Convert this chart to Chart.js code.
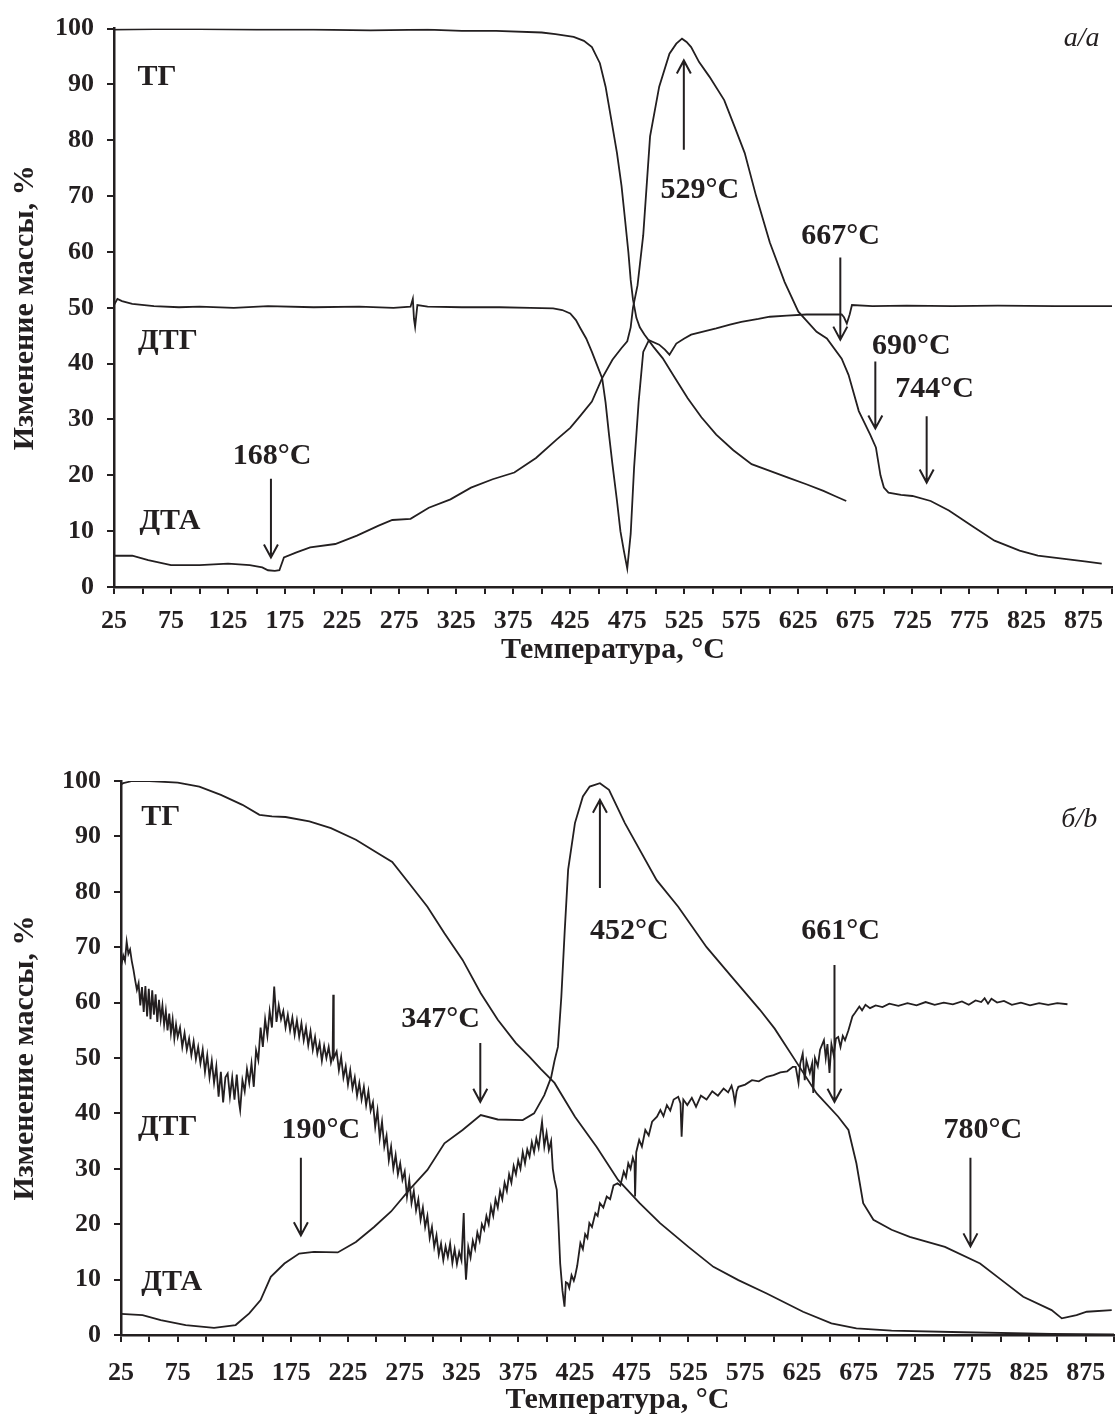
<!DOCTYPE html>
<html>
<head>
<meta charset="utf-8">
<script src="https://cdn.jsdelivr.net/npm/chart.js@4.4.1/dist/chart.umd.min.js"></script>
<style>
  html, body { margin: 0; padding: 0; background: #fff; overflow: hidden; }
  #page { position: relative; width: 1116px; height: 1418px; overflow: hidden; background: #fff; }
  .panel { position: absolute; left: 0; }
</style>
</head>
<body>
<div id="page">
  <canvas id="chartA" class="panel" width="1130" height="700" style="top:0"></canvas>
  <canvas id="chartB" class="panel" width="1130" height="688" style="top:730px"></canvas>
</div>
<script>
// --- AXES ---
const xTickMarks = [25, 50, 75, 100, 125, 150, 175, 200, 225, 250, 275, 300, 325, 350, 375, 400, 425, 450,
  475, 500, 525, 550, 575, 600, 625, 650, 675, 700, 725, 750, 775, 800, 825, 850, 875, 900];
const xTickLabels = [25, 75, 125, 175, 225, 275, 325, 375, 425, 475, 525, 575, 625, 675, 725, 775, 825, 875];
const yTickValues = [0, 10, 20, 30, 40, 50, 60, 70, 80, 90, 100];

// --- ПАНЕЛЬ а/a: [температура, значение] ---
const tgA = [[25,99.8],[60,99.9],[100,99.9],[150,99.8],[200,99.8],[250,99.7],[300,99.8],[330,99.6],[360,99.6],
  [400,99.3],[412,99],[428,98.5],[437,97.8],[444,96.7],[451,93.8],[456,89.6],[461,83.7],[466,77.7],[470,71.8],
  [473,65.9],[476,59.9],[478,55],[480,51.5],[483,48.2],[486,46.5],[490,45.2],[498,43],[506,41],[517,37.4],
  [528,33.8],[540,30.4],[553,27.3],[568,24.5],[584,22],[600,20.8],[616,19.6],[632,18.4],[647,17.2],[657,16.3],[667,15.4]];

const dtgA = [[25,50.5],[28,51.6],[32,51.2],[41,50.7],[60,50.3],[82,50.1],[100,50.2],[130,50],[160,50.3],[200,50.1],
  [240,50.2],[270,50],[285,50.2],[287,51.6],[288,48],[289,46.6],[291,50.5],[300,50.2],[330,50.1],[363,50.1],
  [390,50],[410,49.9],[418,49.6],[425,49],[430,47.8],[434,46.3],[439,44.5],[444,42.1],[448,40],[453,37.4],
  [456,33],[459,27.3],[462,22],[466,15.4],[469,10],[472,6.5],[475,3.3],[478,9.5],[481,21.4],[485,33.2],
  [489,42.1],[494,44.2],[503,43.4],[508,42.5],[512,41.6],[518,43.6],[525,44.5],[531,45.2],[545,45.9],[553,46.3],
  [565,47],[575,47.5],[590,48],[600,48.4],[615,48.6],[632,48.8],[650,48.8],[663,48.8],[665,48.3],[667.5,47.2],
  [670,48.8],[672,50.5],[690,50.3],[720,50.4],[760,50.3],[800,50.4],[850,50.3],[900,50.3]];

const dtaA = [[25,5.6],[41,5.6],[55,4.8],[75,3.9],[100,3.9],[125,4.2],[144,3.9],[155,3.5],[160,3],[166,2.9],
  [170,3],[174,5.3],[185,6.2],[197,7.1],[219,7.7],[238,9.2],[257,11],[269,12],[285,12.2],[301,14.2],[320,15.7],
  [338,17.8],[357,19.3],[376,20.5],[395,23.1],[413,26.4],[425,28.5],[434,30.7],[444,33.2],[453,37.4],[462,40.7],
  [470,42.8],[475,44],[478,46.5],[480,50],[484,54],[489,63],[495,80.7],[503,89.6],[512,95.5],[518,97.3],
  [523,98.2],[527,97.6],[531,96.7],[538,94],[547,91.4],[560,87.2],[569,82.5],[578,77.7],[588,70],[600,61.7],
  [613,54.6],[625,49.3],[641,45.7],[650,44.5],[663,40.9],[669,38],[678,31.5],[688,27.3],[693,25],[697,20],
  [700,17.8],[704,16.9],[715,16.5],[725,16.3],[741,15.4],[757,13.7],[779,10.7],[797,8.3],[819,6.5],[835,5.6],
  [851,5.2],[876,4.6],[891,4.2]];

// --- ПАНЕЛЬ б/b ---
const tgB = [[25,99.4],[27,99.6],[35,100],[50,100],[75,99.7],[94,99],[113,97.5],[132,95.7],[147,93.9],[158,93.6],
  [170,93.5],[191,92.7],[210,91.5],[232,89.4],[251,87],[264,85.4],[279,81.5],[295,77.3],[310,72.5],[326,67.7],
  [342,61.7],[357,56.9],[373,52.7],[385,50.2],[395,48],[407,45.5],[425,39.4],[444,34],[463,28],[482,23.8],
  [500,20.2],[525,15.9],[547,12.3],[569,9.9],[594,7.5],[626,4.2],[651,2.1],[673,1.2],[704,0.8],[767,0.5],
  [845,0.2],[900,0.1]];

const dtaB = [[25,3.8],[44,3.6],[60,2.7],[82,1.8],[107,1.3],[126,1.8],[138,3.9],[148,6.3],[157,10.5],[169,12.9],
  [182,14.7],[195,15],[216,14.9],[232,16.8],[248,19.5],[263,22.3],[279,26.2],[295,29.8],[310,34.6],[326,37],
  [342,39.7],[357,38.9],[379,38.8],[389,40],[398,43.3],[404,46.5],[407,49.5],[410,52],[413,61],[416,73],
  [419,84],[425,92.4],[432,97.2],[438,99],[447,99.6],[455,98.4],[469,92.4],[497,82.1],[516,77.3],[541,70],
  [563,64.7],[588,58.7],[601,55.3],[620,49.3],[638,43.6],[657,39.4],[666,37],[673,31],[679,23.8],[688,20.8],
  [704,19],[720,17.7],[751,15.9],[782,12.9],[801,9.9],[820,6.9],[845,4.5],[854,3],[867,3.6],[876,4.2],[898,4.5]];

const dtgB = [[25,66.5],[27,68.5],[28.5,67.5],[30,71],[31.5,68.8],[33,69.6],[34.5,67.5],[36,65.9],[37.5,64],
  [39,62.3],[40.5,63.5],[42,59.5],[43.5,62.8],[45,58.3],[46.5,63],[48,57.5],[49.5,62.5],[51,57],[52.5,62.2],
  [54,57.8],[55.5,61.5],[57,56.5],[58.5,60.5],[60,57],[61.5,59.5],[63,56],[64.5,58.5],[66,55],[67.5,58],
  [69,54.5],[70.5,57],[72,53.5],[73.5,56],[75,53.8],[77,55.5],[79,52],[81,54.5],[83,51.5],[85,53.5],[87,50.5],
  [89,53],[91,49.8],[93,52],[95,49],[97,51.5],[99,47.5],[101,50.5],[103,46.5],[105,49.5],[107,45.5],[109,48.5],
  [111,43],[113,47.5],[115,42],[117,46.5],[119,47.2],[121,43],[123,46.5],[125,42.5],[127,47],[129,42],[130,40.6],
  [132,46],[134,44],[136,48],[138,45.5],[140,49],[142,44.8],[144,51.4],[146,49.6],[148,55.5],[150,52],[152,57],
  [154,54],[156,58.5],[158,55.5],[160,62.9],[162,56.5],[164,59.5],[166,57],[168,58.5],[170,55.5],[172,57.8],
  [174,55],[176,57.3],[178,54.2],[180,56.8],[182,53.8],[184,56.3],[186,53.2],[188,55.5],[190,52.3],[192,54.8],
  [194,51.5],[196,53.8],[198,50.8],[200,52.7],[202,49.5],[204,52.2],[206,50],[208,52],[210,49.2],[211.5,50.5],
  [212,61.4],[212.5,50],[215,51.2],[217,47.8],[219,50.2],[221,46.5],[223,48.5],[225,45.2],[227,47.8],[229,44.5],
  [231,46.5],[233,43.2],[235,45.5],[237,42.5],[239,44.8],[241,41.5],[243,44],[245,40.5],[247,42],[249,37.6],
  [251,40.5],[253,35.5],[255,38.5],[257,34],[259,36],[261,31.5],[263,34],[265,30],[267,32.5],[269,29],[271,31],
  [273,28],[275,29.5],[277,25],[279,28],[281,23.8],[283,26],[285,22.5],[287,24.5],[289,20.8],[291,23],[293,19.5],
  [295,21.5],[297,17.5],[299,19.5],[301,15.9],[303,18],[305,14.5],[307,16.5],[309,13.5],[311,16],[313,14.1],
  [315,16.5],[317,13],[319,15.5],[321,12.8],[323,15],[325,13.5],[327,22],[328,14],[329,10],[331,15.9],[333,14],
  [335,17],[337,15.5],[339,18.5],[341,17],[343,20],[345,19],[347,21.5],[349,20],[351,23.2],[353,21.5],[355,24.5],
  [357,23],[359,26],[361,24.5],[363,27.5],[365,26],[367,29],[369,27.5],[371,30.5],[373,29],[375,31.5],[377,30],
  [379,33],[381,31],[383,33.5],[385,32.2],[387,34.8],[389,33],[391,35.5],[393,33.8],[395,37],[396,38.5],[398,34],
  [400,36.5],[402,33.4],[404,35],[405.5,30],[407,28],[409,26.2],[410.5,20],[412,12.9],[414,8],[415.8,5.1],
  [417,9.5],[418.7,9.3],[420,8.5],[422,10.8],[424,9.8],[425,10.5],[427,12.5],[429.8,16.6],[432,15.5],[434,18.2],
  [436,17.5],[437.7,20.2],[440,19.5],[443,22],[445,21.5],[447,23.8],[450,23],[453,25],[456,24.5],[459,27],
  [462.5,27.4],[465,27],[468,29.5],[470,28.5],[472,31],[474,30],[476,32],[477.5,31],[478,25],[479,33],[481.6,35.2],
  [484,34],[487,37],[490,36],[493,38.5],[497.3,39.4],[500.3,40.6],[503,39.5],[506,41.5],[509,40.5],[512,42.5],
  [516,43],[518,41.8],[519,35.8],[520.5,42.5],[524,41.5],[528,42.8],[531.7,41.2],[536,43.2],[541,42.5],[546,44],
  [551,43.2],[556,44.5],[560,43.8],[563,45],[564.5,43.8],[566,41.9],[567.5,44],[569,44.8],[575,45.2],[581,46],
  [587,45.8],[594,46.6],[600,46.9],[606,47.4],[612,47.6],[617,48.4],[619.5,48.4],[622,45.5],[623.5,49],
  [625.7,50.8],[627.5,46],[629,49.5],[632,47.3],[634,49],[635,43.7],[636.5,50],[639,48.5],[641,51.5],[644.4,53.2],
  [646,50],[647.5,52.5],[649.3,47.3],[651,52.5],[653,50.5],[655,53.5],[657,53.8],[659,52],[661,54],[663,53.2],
  [666,55],[669.5,57.5],[672,58.2],[675.6,59.3],[678,58.6],[681,59.6],[685,59],[690,59.5],[696,59.2],[702,59.8],
  [710,59.4],[718,59.9],[726,59.5],[734,60.1],[742,59.6],[750,60],[758,59.7],[766,60.2],[772,59.6],[778,60.4],
  [783,60.1],[786,60.8],[789,59.8],[792,60.7],[797,60],[803,60.3],[810,59.6],[818,60],[826,59.5],[834,59.9],
  [842,59.6],[850,59.9],[859,59.7]];

// --- ПОДПИСИ ---
const notesA = {
  labels: [
    { text: 'ТГ', t: 62.7, v: 91.3 }, { text: 'ДТГ', t: 72.3, v: 44 }, { text: 'ДТА', t: 74, v: 11.8 },
    { text: '168°C', t: 163.5, v: 23.4 }, { text: '529°C', t: 538.6, v: 71 }, { text: '667°C', t: 662, v: 62.8 },
    { text: '690°C', t: 724, v: 43.2 }, { text: '744°C', t: 744.5, v: 35.4 }
  ],
  arrows: [
    { t: 162.6, from: 19.4, to: 5.3 }, { t: 524.6, from: 78.3, to: 94.3 }, { t: 661.8, from: 59, to: 44.3 },
    { t: 692.5, from: 40.4, to: 28.4 }, { t: 737.5, from: 30.6, to: 18.7 }
  ],
  panel: { text: 'а/a', t: 873.4, v: 98.2 }
};
const notesB = {
  labels: [
    { text: 'ТГ', t: 60, v: 93.5 }, { text: 'ДТГ', t: 66.2, v: 37.5 }, { text: 'ДТА', t: 69.7, v: 9.5 },
    { text: '190°C', t: 201, v: 37 }, { text: '347°C', t: 306.5, v: 57 }, { text: '452°C', t: 473, v: 72.9 },
    { text: '661°C', t: 659, v: 72.9 }, { text: '780°C', t: 784.4, v: 37 }
  ],
  arrows: [
    { t: 183.5, from: 32, to: 18 }, { t: 341.6, from: 52.7, to: 42.1 }, { t: 447, from: 80.7, to: 96.6 },
    { t: 653.7, from: 66.8, to: 42.1 }, { t: 773.5, from: 32, to: 16 }
  ],
  panel: { text: 'б/b', t: 869.4, v: 93 }
};

const INK = '#231f20';
const SERIF = '"Liberation Serif", "Times New Roman", serif';

const thermoNotes = {
  id: 'thermoNotes',
  afterDatasetsDraw(chart, args, o) {
    const { ctx } = chart;
    const x = chart.scales.x, y = chart.scales.y;
    ctx.save();
    ctx.fillStyle = INK;
    ctx.strokeStyle = INK;
    ctx.textAlign = 'center';
    ctx.textBaseline = 'middle';
    ctx.font = 'bold 30px ' + SERIF;
    o.labels.forEach(l => ctx.fillText(l.text, x.getPixelForValue(l.t), y.getPixelForValue(l.v)));
    ctx.lineWidth = 2;
    o.arrows.forEach(a => {
      const px = x.getPixelForValue(a.t);
      const y0 = y.getPixelForValue(a.from), y1 = y.getPixelForValue(a.to);
      const dir = y1 > y0 ? 1 : -1;
      ctx.beginPath();
      ctx.moveTo(px, y0);
      ctx.lineTo(px, y1);
      ctx.moveTo(px - 7, y1 - dir * 13);
      ctx.lineTo(px, y1);
      ctx.lineTo(px + 7, y1 - dir * 13);
      ctx.stroke();
    });
    ctx.font = 'italic 28px ' + SERIF;
    ctx.fillText(o.panel.text, x.getPixelForValue(o.panel.t), y.getPixelForValue(o.panel.v));
    ctx.restore();
  }
};

function line(data) {
  return {
    data: data.map(p => ({ x: p[0], y: p[1] })),
    borderColor: INK, borderWidth: 1.8, pointRadius: 0, fill: false, tension: 0
  };
}

function makeOptions(p) {
  const tickFont = { family: SERIF, size: 26, weight: 'bold' };
  const titleFont = { family: SERIF, size: 30, weight: 'bold' };
  return {
    responsive: false,
    animation: false,
    layout: { padding: { left: 0, top: p.top, right: p.right, bottom: 0 } },
    plugins: { legend: { display: false }, tooltip: { enabled: false }, thermoNotes: p.notes },
    scales: {
      x: {
        type: 'linear', min: 25, max: 900,
        afterBuildTicks: s => { s.ticks = xTickMarks.map(v => ({ value: v })); },
        afterFit: s => { s.height = p.xHeight; },
        grid: { drawOnChartArea: false, drawTicks: true, tickLength: 7, color: INK, lineWidth: 2 },
        border: { display: true, color: INK, width: 2.5 },
        ticks: {
          autoSkip: false, maxRotation: 0, padding: p.xPad, color: INK, font: tickFont,
          callback: v => xTickLabels.includes(v) ? String(v) : ''
        },
        title: { display: true, text: 'Температура, °C', color: INK, font: titleFont, padding: { top: 0, bottom: p.titlePad } }
      },
      y: {
        type: 'linear', min: 0, max: 100,
        afterBuildTicks: s => { s.ticks = yTickValues.map(v => ({ value: v })); },
        afterFit: s => { s.width = p.yWidth; },
        grid: { drawOnChartArea: false, drawTicks: true, tickLength: 7, color: INK, lineWidth: 2 },
        border: { display: true, color: INK, width: 2.5 },
        ticks: { padding: 13, color: INK, font: tickFont },
        title: { display: true, text: 'Изменение массы, %', color: INK, font: titleFont, padding: { top: 7, bottom: 0 } }
      }
    }
  };
}

new Chart(document.getElementById('chartA'), {
  type: 'line',
  data: { datasets: [line(tgA), line(dtgA), line(dtaA)] },
  options: makeOptions({ top: 25, right: 18, yWidth: 114, xHeight: 113, xPad: 12, titlePad: 32, notes: notesA }),
  plugins: [thermoNotes]
});

new Chart(document.getElementById('chartB'), {
  type: 'line',
  data: { datasets: [line(tgB), line(dtgB), line(dtaB)] },
  options: makeOptions({ top: 51, right: 11, yWidth: 121, xHeight: 83, xPad: 16, titlePad: 0, notes: notesB }),
  plugins: [thermoNotes]
});
</script>
</body>
</html>
